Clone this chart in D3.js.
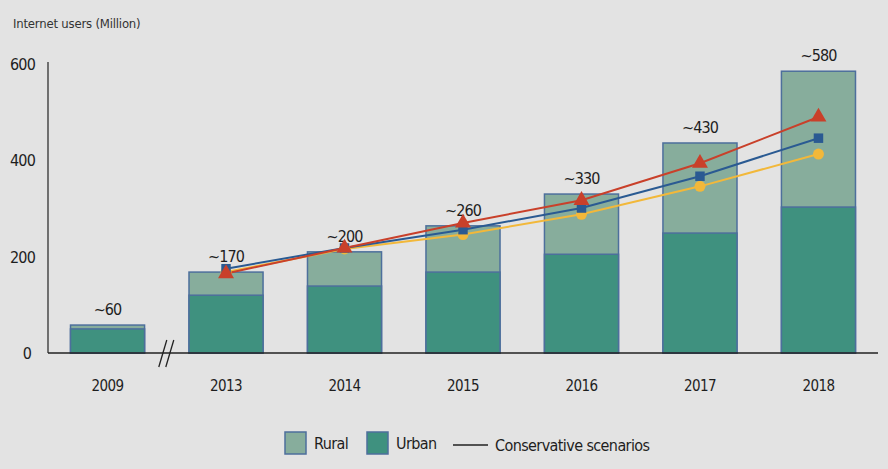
<!DOCTYPE html>
<html>
<head>
<meta charset="utf-8">
<script src="https://cdn.jsdelivr.net/npm/d3@7"></script>
<style>
  body { margin: 0; background: #e3e3e3; }
  svg { display: block; }
  text { font-family: "Liberation Sans Narrow", "DejaVu Sans Condensed", sans-serif; fill: #1e1e1e; }
</style>
</head>
<body>
<div id="graph"></div>
<script>
// ------DATA------
const years = ["2009", "2013", "2014", "2015", "2016", "2017", "2018"]
const urban = [50, 120, 139, 168, 205, 249, 303]
const total = [58, 168, 210, 264, 330, 436, 585]
const totalLabels = ["~60", "~170", "~200", "~260", "~330", "~430", "~580"]
// conservative scenarios (start in 2013)
const scenarioYears = ["2013", "2014", "2015", "2016", "2017", "2018"]
const scenarioHigh = [165, 218, 270, 317, 394, 490]
const scenarioMid = [175, 218, 256, 301, 367, 446]
const scenarioLow = [168, 216, 246, 288, 346, 413]
const yTicks = [0, 200, 400, 600]

const width = 888, height = 469
const margin = { top: 64, right: 10, bottom: 116, left: 48 }

const svg = d3.select('#graph').append('svg')
  .attr('width', width).attr('height', height)

const xScale = d3.scaleBand()
  .domain(years)
  .range([margin.left, 878])
  .paddingInner(0.375)
  .paddingOuter(0.19)

const yScale = d3.scaleLinear()
  .domain([0, 600])
  .range([height - margin.bottom, margin.top])

const y0 = yScale(0)

// y axis title
svg.append('text')
  .attr('x', 13).attr('y', 28)
  .style('font-size', '13px')
  .style('letter-spacing', '-0.2px')
  .style('fill', '#333')
  .text('Internet users (Million)')

// y axis line + tick labels
svg.append('line')
  .attr('x1', margin.left).attr('x2', margin.left)
  .attr('y1', margin.top - 2).attr('y2', y0)
  .attr('stroke', '#222').attr('stroke-width', 1.2)

svg.selectAll('.ytick').data(yTicks).enter()
  .append('text')
  .attr('class', 'ytick')
  .attr('x', d => d == 0 ? 31 : 35)
  .attr('y', d => yScale(d) + 6)
  .attr('text-anchor', 'end')
  .style('font-size', '16px')
  .style('letter-spacing', '-0.8px')
  .text(d => d)

// bars: rural (total) behind, urban in front
const barStroke = '#4d6f9c'
svg.selectAll('.rural').data(years).enter()
  .append('rect')
  .attr('x', d => xScale(d))
  .attr('width', xScale.bandwidth())
  .attr('y', (d, i) => yScale(total[i]))
  .attr('height', (d, i) => y0 - yScale(total[i]))
  .attr('fill', '#87ad9c')
  .attr('stroke', barStroke).attr('stroke-width', 1.5)

svg.selectAll('.urban').data(years).enter()
  .append('rect')
  .attr('x', d => xScale(d))
  .attr('width', xScale.bandwidth())
  .attr('y', (d, i) => yScale(urban[i]))
  .attr('height', (d, i) => y0 - yScale(urban[i]))
  .attr('fill', '#3f917f')
  .attr('stroke', barStroke).attr('stroke-width', 1.5)

// value labels above bars
svg.selectAll('.vlabel').data(years).enter()
  .append('text')
  .attr('x', d => xScale(d) + xScale.bandwidth() / 2)
  .attr('y', (d, i) => yScale(total[i]) - 10)
  .attr('text-anchor', 'middle')
  .style('font-size', '16px')
  .style('letter-spacing', '-0.9px')
  .text((d, i) => totalLabels[i])

// baseline
svg.append('line')
  .attr('x1', margin.left).attr('x2', 878)
  .attr('y1', y0).attr('y2', y0)
  .attr('stroke', '#222').attr('stroke-width', 1.5)

// axis break marks between 2009 and 2013
const breakX = (xScale('2009') + xScale.bandwidth() + xScale('2013')) / 2
;[-4, 3].forEach(dx => {
  svg.append('line')
    .attr('x1', breakX + dx - 4).attr('y1', y0 + 14)
    .attr('x2', breakX + dx + 4).attr('y2', y0 - 13)
    .attr('stroke', '#222').attr('stroke-width', 1.3)
})

// x tick labels
svg.selectAll('.xtick').data(years).enter()
  .append('text')
  .attr('x', d => xScale(d) + xScale.bandwidth() / 2)
  .attr('y', 391)
  .attr('text-anchor', 'middle')
  .style('font-size', '15px')
  .style('letter-spacing', '-0.6px')
  .text(d => d)

// scenario lines
const cx = d => xScale(d) + xScale.bandwidth() / 2
const lineGen = vals => d3.line()
  .x((d, i) => cx(d))
  .y((d, i) => yScale(vals[i]))(scenarioYears)

const series = [
  { vals: scenarioLow, color: '#f2b83a', shape: d3.symbolCircle, size: 95 },
  { vals: scenarioMid, color: '#2a5a92', shape: d3.symbolSquare, size: 90 },
  { vals: scenarioHigh, color: '#c9402a', shape: d3.symbolTriangle, size: 110 }
]

series.forEach(s => {
  svg.append('path')
    .attr('d', lineGen(s.vals))
    .attr('fill', 'none')
    .attr('stroke', s.color).attr('stroke-width', 2)
})
series.forEach(s => {
  svg.selectAll(null).data(scenarioYears).enter()
    .append('path')
    .attr('d', d3.symbol().type(s.shape).size(s.size))
    .attr('transform', (d, i) => `translate(${cx(d)}, ${yScale(s.vals[i])})`)
    .attr('fill', s.color)
})

// legend
const legend = svg.append('g').attr('transform', 'translate(0, 443)')
  .style('font-size', '16px').style('letter-spacing', '-0.6px')
legend.append('rect').attr('x', 285).attr('y', -11).attr('width', 21).attr('height', 22)
  .attr('fill', '#87ad9c').attr('stroke', barStroke).attr('stroke-width', 1.5)
legend.append('text').attr('x', 314).attr('y', 6).text('Rural')
legend.append('rect').attr('x', 367).attr('y', -11).attr('width', 21).attr('height', 22)
  .attr('fill', '#3f917f').attr('stroke', barStroke).attr('stroke-width', 1.5)
legend.append('text').attr('x', 396).attr('y', 6).text('Urban')
legend.append('line').attr('x1', 453).attr('x2', 488).attr('y1', 2).attr('y2', 2)
  .attr('stroke', '#222').attr('stroke-width', 1.3)
legend.append('text').attr('x', 495).attr('y', 8).text('Conservative scenarios')
</script>
</body>
</html>
